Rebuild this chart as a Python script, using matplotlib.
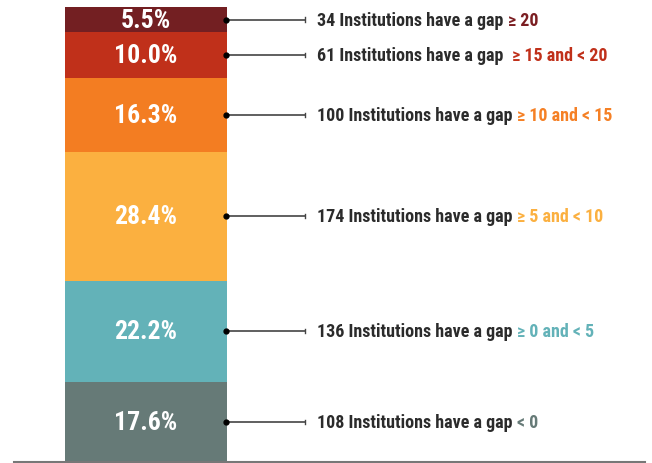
import matplotlib.pyplot as plt

shares = [17.6, 22.2, 28.4, 16.3, 10.0, 5.5]
counts = [108, 136, 174, 100, 61, 34]
ranges = ["< 0", "\u2265 0 and < 5", "\u2265 5 and < 10", "\u2265 10 and < 15",
          " \u2265 15 and < 20", "\u2265 20"]
colors = ["#667a77", "#63b2b8", "#fbb040", "#f37d22", "#c0301a", "#731f22"]
text_colors = ["#667a77", "#63b2b8", "#fbb040", "#f58025", "#c0301a", "#7b1e22"]

fam = ["Roboto Condensed", "DejaVu Sans"]

fig = plt.figure(figsize=(6.52, 4.64), dpi=100)
ax = fig.add_axes([0, 0, 1, 1])
ax.set_xlim(0, 652)
ax.set_ylim(-1 / 455 * 100, 100 + 8 / 455 * 100)
ax.axis("off")

bottom = 0
for s, c, n, r, tc in zip(shares, colors, counts, ranges, text_colors):
    ax.bar(146, s, width=162, bottom=bottom, color=c, linewidth=0)
    mid = bottom + s / 2
    ax.text(146, mid, f"{s:.1f}%", color="white", ha="center", va="center",
            fontsize=18.5, fontweight="bold", family=fam)
    ax.plot([226, 305], [mid, mid], color="#444444", lw=1.2)
    ax.plot(226, mid, "o", color="black", ms=3.5)
    ax.plot([305, 305], [mid - 0.45, mid + 0.45], color="#444444", lw=1)
    t = ax.text(317, mid, f"{n} Institutions have a gap ", color="#2b2b2b",
                ha="left", va="center", fontsize=13, fontweight="bold", family=fam)
    fig.canvas.draw()
    bb = t.get_window_extent()
    x_end = ax.transData.inverted().transform((bb.x1, bb.y0))[0]
    ax.text(x_end, mid, r, color=tc, ha="left", va="center",
            fontsize=13, fontweight="bold", family=fam)
    bottom += s

ax.plot([14, 645], [-0.1, -0.1], color="#777777", lw=1.5, clip_on=False)

fig.savefig("out.png", dpi=100)
